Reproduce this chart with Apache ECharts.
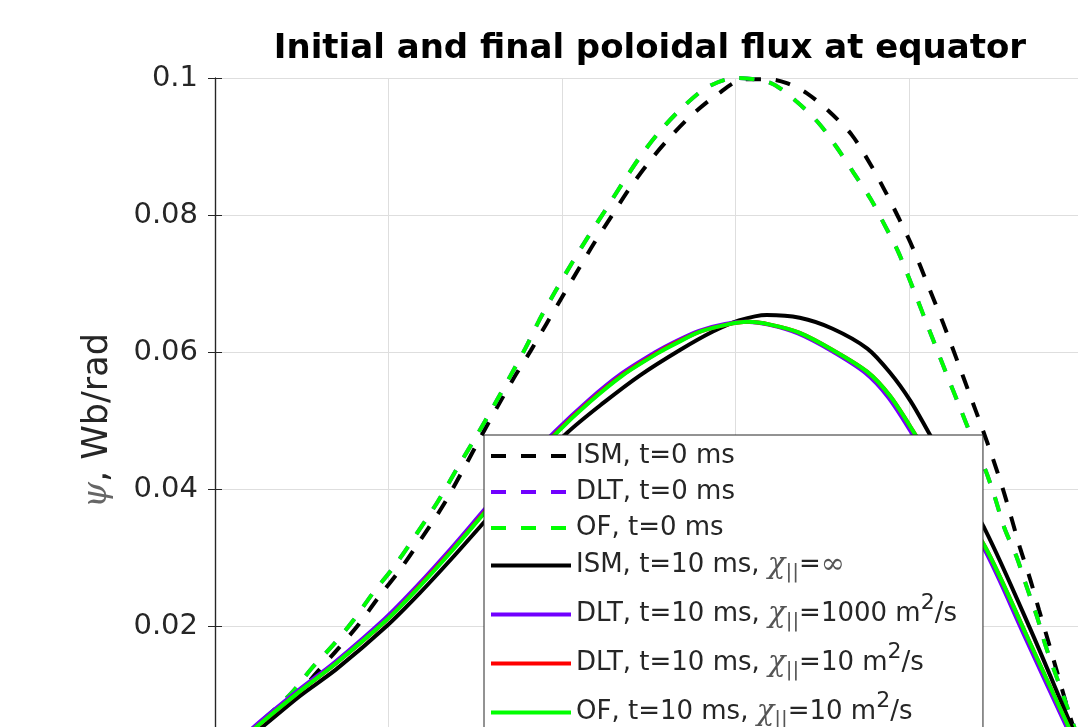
<!DOCTYPE html>
<html>
<head>
<meta charset="utf-8">
<script src="https://cdn.jsdelivr.net/npm/echarts@6/dist/echarts.min.js"></script>
<style>
  html, body { margin: 0; padding: 0; background: #fff; }
  #main { width: 1078px; height: 727px; }
</style>
</head>
<body>
<div id="main"></div>
<script>
// 数据：赤道面上的极向磁通（横坐标为归一化位置）
var ismR0   = [0.05, 0.20, 0.34, 0.47, 0.59, 0.71, 0.83, 0.94, 1.06, 1.18, 1.31, 1.43, 1.54, 1.63, 1.72, 1.82, 1.91, 2.00, 2.10, 2.19, 2.29, 2.39, 2.51, 2.61, 2.74, 2.89, 3.05, 3.20, 3.30, 3.41, 3.54, 3.67, 3.78, 3.86, 3.94, 4.02, 4.11, 4.20, 4.28, 4.35, 4.42, 4.48, 4.54, 4.59, 4.64, 4.70, 4.75, 4.80, 4.85, 4.90, 4.95, 5.00];
var ismPsi0 = [0.0, 0.0040, 0.0068, 0.0098, 0.0133, 0.0167, 0.0203, 0.0241, 0.0280, 0.0324, 0.0374, 0.0428, 0.0480, 0.0521, 0.0561, 0.0602, 0.0641, 0.0680, 0.0723, 0.0761, 0.0800, 0.0839, 0.0880, 0.0910, 0.0944, 0.0975, 0.0998, 0.0998, 0.0992, 0.0978, 0.0951, 0.0917, 0.0873, 0.0836, 0.0796, 0.0753, 0.0697, 0.0640, 0.0586, 0.0538, 0.0490, 0.0447, 0.0401, 0.0358, 0.0314, 0.0267, 0.0223, 0.0180, 0.0136, 0.0092, 0.0050, 0.0010];

var dltR0   = [0.05, 0.20, 0.32, 0.44, 0.56, 0.68, 0.80, 0.91, 1.03, 1.15, 1.28, 1.40, 1.52, 1.61, 1.70, 1.79, 1.87, 1.96, 2.06, 2.15, 2.25, 2.35, 2.45, 2.56, 2.69, 2.84, 3.00, 3.20, 3.35, 3.48, 3.58, 3.68, 3.78, 3.85, 3.94, 4.04, 4.12, 4.21, 4.30, 4.35, 4.44, 4.49, 4.55, 4.62, 4.68, 4.74, 4.79, 4.85, 4.91, 4.97];
var dltPsi0 = [0.0, 0.0045, 0.0073, 0.0102, 0.0139, 0.0172, 0.0209, 0.0248, 0.0286, 0.0330, 0.0380, 0.0432, 0.0483, 0.0523, 0.0564, 0.0606, 0.0647, 0.0688, 0.0731, 0.0768, 0.0807, 0.0847, 0.0885, 0.0921, 0.0956, 0.0987, 0.1000, 0.0993, 0.0966, 0.0934, 0.0900, 0.0862, 0.0823, 0.0790, 0.0745, 0.0682, 0.0630, 0.0572, 0.0515, 0.0483, 0.0428, 0.0392, 0.0343, 0.0301, 0.0256, 0.0212, 0.0169, 0.0126, 0.0083, 0.0040];

var ofR0    = [0.05, 0.20, 0.32, 0.44, 0.56, 0.68, 0.80, 0.91, 1.03, 1.15, 1.28, 1.40, 1.52, 1.61, 1.70, 1.79, 1.87, 1.96, 2.06, 2.15, 2.25, 2.35, 2.45, 2.56, 2.69, 2.84, 3.00, 3.20, 3.35, 3.48, 3.58, 3.68, 3.78, 3.85, 3.94, 4.04, 4.12, 4.21, 4.30, 4.35, 4.44, 4.49, 4.55, 4.62, 4.68, 4.74, 4.79, 4.85, 4.91, 4.97];
var ofPsi0  = [0.0, 0.0045, 0.0073, 0.0102, 0.0139, 0.0172, 0.0209, 0.0248, 0.0286, 0.0330, 0.0380, 0.0432, 0.0483, 0.0523, 0.0564, 0.0606, 0.0647, 0.0688, 0.0731, 0.0768, 0.0807, 0.0847, 0.0885, 0.0921, 0.0956, 0.0987, 0.1000, 0.0993, 0.0966, 0.0934, 0.0900, 0.0862, 0.0823, 0.0790, 0.0745, 0.0682, 0.0630, 0.0572, 0.0515, 0.0483, 0.0428, 0.0392, 0.0343, 0.0301, 0.0256, 0.0212, 0.0169, 0.0126, 0.0083, 0.0040];

var ismR10   = [0.00, 0.24, 0.49, 0.70, 0.99, 1.18, 1.37, 1.57, 1.77, 2.03, 2.24, 2.45, 2.68, 2.87, 3.02, 3.18, 3.37, 3.56, 3.76, 3.89, 4.01, 4.11, 4.25, 4.44, 4.70, 4.93, 5.00];
var ismPsi10 = [0.0, 0.0046, 0.0098, 0.0137, 0.0200, 0.0248, 0.0300, 0.0357, 0.0414, 0.0482, 0.0526, 0.0566, 0.0603, 0.0630, 0.0646, 0.0654, 0.0650, 0.0634, 0.0605, 0.0570, 0.0528, 0.0484, 0.0422, 0.0340, 0.0195, 0.0058, 0.0018];

var dlt1000R10   = [0.00, 0.23, 0.48, 0.69, 0.98, 1.17, 1.36, 1.56, 1.76, 1.96, 2.15, 2.34, 2.54, 2.65, 2.79, 2.94, 3.06, 3.19, 3.36, 3.55, 3.75, 3.88, 4.01, 4.19, 4.43, 4.67, 4.90, 4.99];
var dlt1000Psi10 = [0.0, 0.0054, 0.0106, 0.0147, 0.0211, 0.0260, 0.0313, 0.0372, 0.0430, 0.0484, 0.0529, 0.0568, 0.0600, 0.0615, 0.0631, 0.0641, 0.0644, 0.0640, 0.0627, 0.0602, 0.0569, 0.0534, 0.0484, 0.0408, 0.0314, 0.0183, 0.0057, 0.0010];

var dlt10R10   = [0.00, 0.24, 0.49, 0.70, 0.99, 1.18, 1.37, 1.57, 1.77, 1.97, 2.16, 2.35, 2.55, 2.66, 2.80, 2.95, 3.07, 3.20, 3.37, 3.56, 3.76, 3.89, 4.02, 4.20, 4.44, 4.68, 4.91, 5.00];
var dlt10Psi10 = [0.0, 0.0053, 0.0105, 0.0146, 0.0209, 0.0259, 0.0312, 0.0371, 0.0429, 0.0483, 0.0528, 0.0567, 0.0599, 0.0614, 0.0630, 0.0640, 0.0644, 0.0640, 0.0628, 0.0603, 0.0571, 0.0536, 0.0486, 0.0410, 0.0315, 0.0185, 0.0058, 0.0010];

var ofR10   = [0.00, 0.24, 0.49, 0.70, 0.99, 1.18, 1.37, 1.57, 1.77, 1.97, 2.16, 2.35, 2.55, 2.66, 2.80, 2.95, 3.07, 3.20, 3.37, 3.56, 3.76, 3.89, 4.02, 4.20, 4.44, 4.68, 4.91, 5.00];
var ofPsi10 = [0.0, 0.0053, 0.0105, 0.0146, 0.0209, 0.0258, 0.0311, 0.0370, 0.0428, 0.0482, 0.0527, 0.0566, 0.0598, 0.0613, 0.0630, 0.0640, 0.0644, 0.0640, 0.0628, 0.0603, 0.0571, 0.0536, 0.0486, 0.0410, 0.0315, 0.0185, 0.0058, 0.0010];

var seriesNames = ['ISM, t=0 ms', 'DLT, t=0 ms', 'OF, t=0 ms', 'ISM, t=10 ms', 'DLT, t=10 ms, 1000', 'DLT, t=10 ms, 10', 'OF, t=10 ms, 10'];
var legendLabels = [
    'ISM, t=0 ms',
    'DLT, t=0 ms',
    'OF, t=0 ms',
    'ISM, t=10 ms, {chi|χ}{sub|||}={chi|∞}',
    'DLT, t=10 ms, {chi|χ}{sub|||}=1000 m{sup|2}/s',
    'DLT, t=10 ms, {chi|χ}{sub|||}=10 m{sup|2}/s',
    'OF, t=10 ms, {chi|χ}{sub|||}=10 m{sup|2}/s'
];
var colors = ['#000000', '#7100ff', '#00ff00', '#000000', '#7100ff', '#ff0000', '#00ff00'];

function pairs(xs, ys) {
    var out = [];
    for (var i = 0; i < xs.length; i++) out.push([xs[i], ys[i]]);
    return out;
}

var allData = [
    pairs(ismR0, ismPsi0),
    pairs(dltR0, dltPsi0),
    pairs(ofR0, ofPsi0),
    pairs(ismR10, ismPsi10),
    pairs(dlt1000R10, dlt1000Psi10),
    pairs(dlt10R10, dlt10Psi10),
    pairs(ofR10, ofPsi10)
];

var myChart = echarts.init(document.getElementById('main'));

var axisColor = '#262626';
var labelFont = 'DejaVu Sans';

var series = allData.map(function (d, i) {
    return {
        name: seriesNames[i],
        type: 'line',
        data: d,
        symbol: 'none',
        showSymbol: false,
        smooth: 0.3,
        color: colors[i],
        lineStyle: {
            color: colors[i],
            width: 4,
            type: i < 3 ? [15, 15] : 'solid'
        }
    };
});

var option = {
    animation: false,
    backgroundColor: '#ffffff',
    title: {
        text: 'Initial and final poloidal flux at equator',
        left: 645,
        top: 27,
        textAlign: 'center',
        textStyle: {
            fontFamily: labelFont,
            fontWeight: 'bold',
            fontSize: 34,
            color: '#000'
        }
    },
    grid: {
        left: 215,
        top: 78,
        right: -4.5,
        bottom: -36,
        containLabel: false,
        outerBoundsMode: 'none'
    },
    legend: {
        orient: 'vertical',
        left: 484,
        top: 435,
        height: 600,
        padding: [8, 26, 60, 5],
        itemGap: 10,
        itemWidth: 80,
        itemHeight: 14,
        backgroundColor: '#ffffff',
        borderColor: axisColor,
        borderWidth: 1,
        borderRadius: 0,
        data: seriesNames,
        itemStyle: { color: 'transparent', borderWidth: 0, opacity: 0 },
        lineStyle: { width: 4 },
        formatter: function (name) {
            return legendLabels[seriesNames.indexOf(name)];
        },
        textStyle: {
            fontFamily: labelFont,
            fontSize: 26,
            color: axisColor,
            rich: {
                chi: { fontFamily: 'DejaVu Serif', fontStyle: 'italic', fontSize: 29, color: '#555' },
                sub: { fontFamily: 'DejaVu Sans', fontSize: 20, color: '#555', padding: [14, 0, 0, 0] },
                sup: { fontFamily: 'DejaVu Sans', fontSize: 22, color: axisColor, padding: [0, 0, 22, 0] }
            }
        }
    },
    xAxis: [{
        type: 'value',
        min: 0,
        max: 5,
        interval: 1,
        position: 'bottom',
        axisLine: { lineStyle: { color: axisColor, width: 1.2 } },
        axisTick: { inside: true, length: 7, lineStyle: { color: axisColor } },
        axisLabel: { fontFamily: labelFont, fontSize: 29, color: axisColor },
        splitLine: { show: true, lineStyle: { color: '#dedede', width: 1 } }
    }, {
        type: 'value',
        min: 0,
        max: 5,
        interval: 1,
        position: 'top',
        axisLine: { lineStyle: { color: axisColor, width: 1.2 } },
        axisTick: { inside: true, length: 7, lineStyle: { color: axisColor } },
        axisLabel: { show: false },
        splitLine: { show: false }
    }],
    yAxis: [{
        type: 'value',
        min: 0,
        max: 0.1,
        interval: 0.02,
        position: 'left',
        name: '{psi|ψ}, Wb/rad',
        nameLocation: 'middle',
        nameRotate: 90,
        nameGap: 100,
        nameTextStyle: {
            fontFamily: labelFont,
            fontSize: 35,
            color: axisColor,
            rich: {
                psi: { fontFamily: 'DejaVu Serif', fontStyle: 'italic', fontSize: 33, color: '#666' }
            }
        },
        axisLine: { show: true, lineStyle: { color: axisColor, width: 1.2 } },
        axisTick: { show: true, inside: true, length: 7, lineStyle: { color: axisColor } },
        axisLabel: { fontFamily: labelFont, fontSize: 29, color: axisColor, margin: 17 },
        splitLine: { show: true, lineStyle: { color: '#dedede', width: 1 } }
    }, {
        type: 'value',
        min: 0,
        max: 0.1,
        interval: 0.02,
        position: 'right',
        axisLine: { show: true, lineStyle: { color: axisColor, width: 1.2 } },
        axisTick: { show: true, inside: true, length: 7, lineStyle: { color: axisColor } },
        axisLabel: { show: false },
        splitLine: { show: false }
    }],
    series: series
};

myChart.setOption(option);
</script>
</body>
</html>
